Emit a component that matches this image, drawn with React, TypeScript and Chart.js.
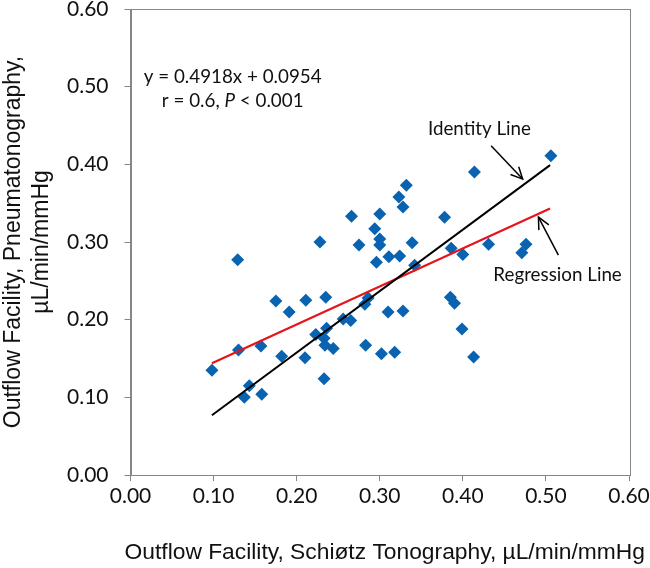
import { useEffect, useRef } from "react";
import { Chart, registerables } from "chart.js";

Chart.register(...registerables);

// Schiøtz tonography outflow facility (x) vs pneumatonography (y)
const schiotzValues = [
  0.098, 0.129, 0.130, 0.137, 0.143, 0.157, 0.158, 0.175, 0.182, 0.191,
  0.211, 0.210, 0.228, 0.223, 0.235, 0.233, 0.234, 0.244, 0.233, 0.236,
  0.256, 0.265, 0.266, 0.275, 0.282, 0.286, 0.283, 0.294, 0.296, 0.300,
  0.300, 0.300, 0.302, 0.311, 0.310, 0.318, 0.324, 0.323, 0.328, 0.328,
  0.332, 0.339, 0.342, 0.378, 0.385, 0.390, 0.386, 0.400, 0.399, 0.413,
  0.414, 0.431, 0.476, 0.471, 0.506,
];
const pneumaValues = [
  0.135, 0.277, 0.161, 0.100, 0.115, 0.166, 0.104, 0.224, 0.153, 0.210,
  0.225, 0.151, 0.300, 0.181, 0.229, 0.176, 0.167, 0.163, 0.124, 0.189,
  0.201, 0.199, 0.333, 0.296, 0.220, 0.228, 0.167, 0.317, 0.274, 0.336,
  0.304, 0.296, 0.156, 0.281, 0.210, 0.158, 0.282, 0.358, 0.345, 0.211,
  0.373, 0.299, 0.270, 0.332, 0.229, 0.221, 0.292, 0.284, 0.188, 0.152,
  0.390, 0.297, 0.297, 0.286, 0.411,
];

const identityX = [0.098, 0.505];
const identityY = [0.077, 0.399];
const regressionX = [0.098, 0.505];
const regressionY = [0.144, 0.343];

const xTickValues = [0, 0.1, 0.2, 0.3, 0.4, 0.5, 0.6];
const yTickValues = [0, 0.1, 0.2, 0.3, 0.4, 0.5, 0.6];

const xTitle = "Outflow Facility, Schiøtz Tonography, µL/min/mmHg";
const yTitle = ["Outflow Facility, Pneumatonography,", "µL/min/mmHg"];
const equationText = "y = 0.4918x + 0.0954";
const identityLabel = "Identity Line";
const regressionLabel = "Regression Line";

const LABEL_FONT = "Lato, 'Open Sans', sans-serif";
const TITLE_FONT = "'Liberation Sans', Arial, sans-serif";
const ANN_SIZE = 18.8;

const overlayPlugin = {
  id: "overlay",
  afterDraw(chart: any) {
    const { ctx, chartArea, scales } = chart;
    const xs = scales.x;
    const ys = scales.y;
    ctx.save();
    // frame
    ctx.strokeStyle = "#868686";
    ctx.lineWidth = 1;
    ctx.strokeRect(
      Math.round(chartArea.left) + 0.5,
      Math.round(chartArea.top) + 0.5,
      Math.round(chartArea.right - chartArea.left),
      Math.round(chartArea.bottom - chartArea.top)
    );

    // x-axis title (drawn here so it may extend past the plot width)
    ctx.fillStyle = "#111";
    ctx.textBaseline = "middle";
    ctx.textAlign = "center";
    ctx.font = `22.8px ${TITLE_FONT}`;
    ctx.fillText(xTitle, xs.getPixelForValue(0.306), xs.bottom - 15);

    ctx.font = `${ANN_SIZE}px ${LABEL_FONT}`;
    const ex = xs.getPixelForValue(0.123);
    ctx.fillText(equationText, ex, ys.getPixelForValue(0.512));
    // r line with italic P
    const part1 = "r = 0.6, ";
    const partP = "P";
    const part3 = " < 0.001";
    ctx.font = `${ANN_SIZE}px ${LABEL_FONT}`;
    const w1 = ctx.measureText(part1).width;
    const w3 = ctx.measureText(part3).width;
    ctx.font = `italic ${ANN_SIZE}px ${LABEL_FONT}`;
    const wP = ctx.measureText(partP).width;
    const total = w1 + wP + w3;
    let cx = ex - total / 2;
    const ry = ys.getPixelForValue(0.481);
    ctx.textAlign = "left";
    ctx.font = `${ANN_SIZE}px ${LABEL_FONT}`;
    ctx.fillText(part1, cx, ry);
    cx += w1;
    ctx.font = `italic ${ANN_SIZE}px ${LABEL_FONT}`;
    ctx.fillText(partP, cx, ry);
    cx += wP;
    ctx.font = `${ANN_SIZE}px ${LABEL_FONT}`;
    ctx.fillText(part3, cx, ry);

    ctx.textAlign = "center";
    ctx.fillText(identityLabel, xs.getPixelForValue(0.42), ys.getPixelForValue(0.445));
    ctx.fillText(regressionLabel, xs.getPixelForValue(0.514), ys.getPixelForValue(0.257));

    const arrow = (x1: number, y1: number, x2: number, y2: number) => {
      const p1x = xs.getPixelForValue(x1), p1y = ys.getPixelForValue(y1);
      const p2x = xs.getPixelForValue(x2), p2y = ys.getPixelForValue(y2);
      ctx.strokeStyle = "#000";
      ctx.lineWidth = 1.5;
      ctx.beginPath();
      ctx.moveTo(p1x, p1y);
      ctx.lineTo(p2x, p2y);
      ctx.stroke();
      const ang = Math.atan2(p2y - p1y, p2x - p1x);
      const len = 13;
      const spread = 0.45;
      ctx.beginPath();
      ctx.moveTo(p2x - len * Math.cos(ang - spread), p2y - len * Math.sin(ang - spread));
      ctx.lineTo(p2x, p2y);
      ctx.lineTo(p2x - len * Math.cos(ang + spread), p2y - len * Math.sin(ang + spread));
      ctx.stroke();
    };
    arrow(0.434, 0.424, 0.472, 0.381);
    arrow(0.515, 0.283, 0.491, 0.332);
    ctx.restore();
  },
};

export default function App() {
  const ref = useRef<HTMLCanvasElement>(null);
  useEffect(() => {
    const points = schiotzValues.map((x, i) => ({ x, y: pneumaValues[i] }));
    const identity = identityX.map((x, i) => ({ x, y: identityY[i] }));
    const regression = regressionX.map((x, i) => ({ x, y: regressionY[i] }));
    const chart = new Chart(ref.current as HTMLCanvasElement, {
      type: "scatter",
      data: {
        datasets: [
          {
            label: "Identity",
            data: identity,
            showLine: true,
            borderColor: "#000000",
            borderWidth: 2,
            pointRadius: 0,
            order: 0,
          },
          {
            label: "Regression",
            data: regression,
            showLine: true,
            borderColor: "#E5141B",
            borderWidth: 2.2,
            pointRadius: 0,
            order: 0,
          },
          {
            label: "Data",
            data: points,
            pointStyle: "rectRot",
            pointRadius: 6.5,
            backgroundColor: "#0A63B0",
            borderColor: "#0A63B0",
            borderWidth: 0,
            order: 1,
          },
        ],
      },
      options: {
        responsive: false,
        animation: false,
        events: [],
        layout: { padding: { left: 0, top: 9, right: 21, bottom: 0 } },
        plugins: { legend: { display: false }, tooltip: { enabled: false } },
        scales: {
          x: {
            type: "linear",
            min: 0,
            max: 0.6,
            afterFit: (s: any) => {
              s.height = 93;
              s.paddingLeft = 0;
              s.paddingRight = 0;
            },
            afterBuildTicks: (s: any) => { s.ticks = xTickValues.map((v) => ({ value: v })); },
            ticks: {
              callback: (v: any) => Number(v).toFixed(2),
              color: "#111",
              font: { family: LABEL_FONT, size: 21 },
              padding: 3,
              maxRotation: 0,
            },
            grid: { drawOnChartArea: false, drawTicks: true, tickLength: 6, color: "#868686" },
            border: { color: "#868686" },
            title: { display: false },
          },
          y: {
            type: "linear",
            min: 0,
            max: 0.6,
            afterFit: (s: any) => {
              s.width = 130.5;
              s.paddingTop = 0;
              s.paddingBottom = 0;
            },
            afterBuildTicks: (s: any) => { s.ticks = yTickValues.map((v) => ({ value: v })); },
            ticks: {
              callback: (v: any) => Number(v).toFixed(2),
              color: "#111",
              font: { family: LABEL_FONT, size: 21 },
              padding: 16,
            },
            grid: { drawOnChartArea: false, drawTicks: true, tickLength: 6, color: "#868686" },
            border: { color: "#868686" },
            title: {
              display: true,
              text: yTitle,
              color: "#111",
              font: { family: TITLE_FONT, size: 23 },
              padding: { top: 0, bottom: 0 },
            },
          },
        },
      },
      plugins: [overlayPlugin],
    });
    return () => chart.destroy();
  }, []);
  return (
    <div style={{ position: "absolute", left: 0, top: 0, width: 650, height: 568 }}>
      <canvas ref={ref} width={650} height={568} style={{ display: "block" }} />
    </div>
  );
}
